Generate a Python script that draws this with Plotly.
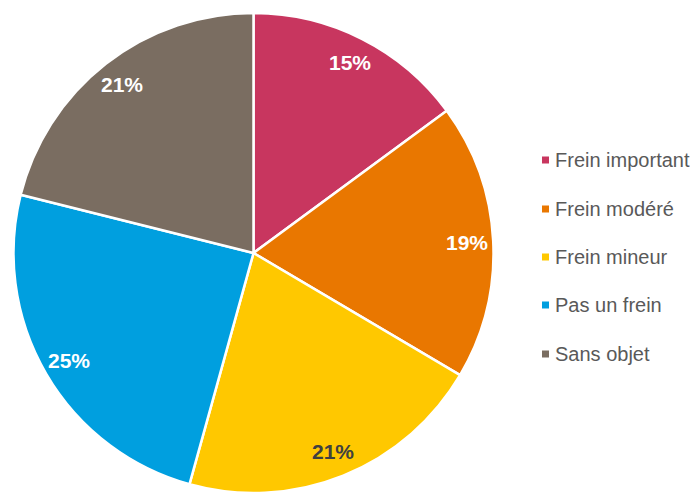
import math
import plotly.graph_objects as go

categories = ["Frein important", "Frein modéré", "Frein mineur", "Pas un frein", "Sans objet"]
values = [14.9, 18.6, 20.8, 24.6, 21.1]
colors = ["#C8365F", "#E97700", "#FFC800", "#009FDF", "#7A6D61"]
label_colors = ["white", "white", "#404040", "white", "white"]

W, H = 694, 494
CX, CY, R = 253.5, 253.0, 240.0
LABEL_R = 0.89 * R

fig = go.Figure()
fig.add_trace(go.Pie(
    labels=categories,
    values=values,
    sort=False,
    direction="clockwise",
    rotation=0,
    marker=dict(colors=colors, line=dict(color="white", width=2.5)),
    textinfo="none",
    hoverinfo="label+percent",
    showlegend=False,
    domain=dict(x=[(CX - R) / W, (CX + R) / W], y=[1 - (CY + R) / H, 1 - (CY - R) / H]),
))

# percentage labels placed near the outer part of each slice
total = sum(values)
cum = 0.0
for v, lc in zip(values, label_colors):
    mid = (cum + v / 2) / total * 2 * math.pi
    cum += v
    px = CX + LABEL_R * math.sin(mid)
    py = CY - LABEL_R * math.cos(mid)
    pct = int(math.floor(v / total * 100 + 0.5))
    fig.add_annotation(xref="paper", yref="paper", x=px / W, y=1 - py / H,
                       xanchor="center", yanchor="middle", showarrow=False,
                       text="<b>%d%%</b>" % pct,
                       font=dict(family="Liberation Sans, Arial, sans-serif", size=21, color=lc))

# custom legend (small square markers like the original)
legend_y = [160, 209, 257, 305, 354]
for cat, col, yy in zip(categories, colors, legend_y):
    fig.add_shape(type="rect", xref="paper", yref="paper",
                  x0=542 / W, x1=549 / W, y0=1 - (yy + 3.5) / H, y1=1 - (yy - 3.5) / H,
                  fillcolor=col, line=dict(width=0))
    fig.add_annotation(xref="paper", yref="paper", x=553 / W, y=1 - yy / H,
                       xanchor="left", yanchor="middle", showarrow=False,
                       text=cat, font=dict(family="Liberation Sans, Arial, sans-serif",
                                           size=20, color="#595959"))

fig.update_layout(
    width=W, height=H,
    margin=dict(l=0, r=0, t=0, b=0),
    paper_bgcolor="white", plot_bgcolor="white",
    showlegend=False,
)

fig.write_html("out.html", config={"displayModeBar": False},
               post_script="document.body.style.margin='0';")
